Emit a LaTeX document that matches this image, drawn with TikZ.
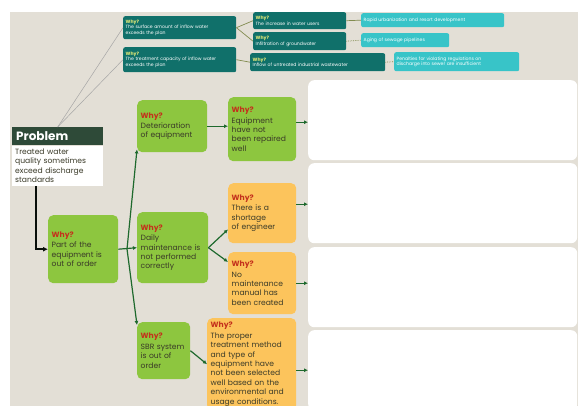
\documentclass[tikz,border=0pt]{standalone}
\usepackage{fontspec}
\setmainfont{Poppins}
\usetikzlibrary{arrows.meta,positioning}

\definecolor{canvas}{RGB}{227,223,214}
\definecolor{leaf}{RGB}{141,198,63}
\definecolor{amber}{RGB}{252,196,92}
\definecolor{whyred}{RGB}{196,48,28}
\definecolor{ink}{RGB}{58,58,40}
\definecolor{forest}{RGB}{46,74,56}
\definecolor{arrowgreen}{RGB}{30,105,45}
\definecolor{deepteal}{RGB}{16,112,106}
\definecolor{aqua}{RGB}{56,196,200}
\definecolor{olive}{RGB}{130,140,80}
\definecolor{whyyellow}{RGB}{232,236,120}

\newcommand{\whyline}{{\color{whyred}\bfseries Why?}\\[1pt]}
\newcommand{\whysmall}{{\color{whyyellow}\bfseries Why?}\\}

\begin{document}
\begin{tikzpicture}[x=1pt, y=-1pt,
    cause/.style={rectangle, rounded corners=5pt, anchor=north west, align=left, inner sep=3.5pt, text=ink, font=\fontsize{7.6}{9.4}\selectfont},
    greencause/.style={cause, fill=leaf},
    orangecause/.style={cause, fill=amber},
    tealcause/.style={rectangle, rounded corners=2pt, anchor=north west, align=left, inner sep=2.5pt, fill=deepteal, text=white, font=\fontsize{4.6}{5.6}\selectfont},
    rootcause/.style={tealcause, fill=aqua},
    answer/.style={rectangle, rounded corners=6pt, anchor=north west, fill=white, minimum width=269pt},
    link/.style={draw=arrowgreen, line width=1.2pt, -{Latex[length=4pt,width=4pt]}},
    twig/.style={draw=olive, line width=0.7pt}]
        \useasboundingbox (0,0) rectangle (578,406);
        \fill[canvas] (10,12) rectangle (578,406);

        % problem statement
        \node (probhead) [anchor=north west, fill=forest, text=white, font=\bfseries\fontsize{12}{13}\selectfont, text width=83pt, minimum height=18pt, inner sep=4pt, align=left] at (12,127) {Problem};
        \node (probtext) [anchor=north west, fill=white, text=ink, font=\fontsize{7.6}{9.5}\selectfont, text width=85pt, inner sep=3pt, align=left] at (probhead.south west) {Treated water\\quality sometimes\\exceed discharge\\standards};

        % upper branch
        \node (whyA) [tealcause, text width=108pt, minimum height=23pt] at (123,16) {\whysmall The surface amount of inflow water\\exceeds the plan};
        \node (whyB) [tealcause, text width=108pt, minimum height=25pt] at (123,47) {\whysmall The treatment capacity of inflow water\\exceeds the plan};
        \node (whyC) [tealcause, text width=88pt, minimum height=17pt] at (253,12) {\whysmall The increase in water users};
        \node (whyD) [tealcause, text width=88pt, minimum height=18pt] at (253,32) {\whysmall Infiltration of groundwater};
        \node (whyE) [tealcause, text width=130pt, minimum height=18pt] at (250,53) {\whysmall Inflow of untreated industrial wastewater};
        \node (rootF) [rootcause, text width=138pt, minimum height=14pt] at (361,13) {Rapid urbanization and resort development};
        \node (rootG) [rootcause, text width=83pt, minimum height=14pt] at (361,33) {Aging of sewage pipelines};
        \node (rootH) [rootcause, text width=120pt, minimum height=19pt] at (394,52) {Penalties for violating regulations on\\discharge into sewer are insufficient};

        % lower branch
        \node (part) [greencause, text width=63pt, minimum height=68pt] at (48,215) {\whyline Part of the\\equipment is\\out of order};
        \node (deter) [greencause, text width=63pt, minimum height=52pt] at (137,100) {\whyline Deterioration\\of equipment};
        \node (equip) [greencause, text width=61pt, minimum height=64pt] at (228,97) {\whyline Equipment\\have not\\been repaired\\well};
        \node (daily) [greencause, text width=64pt, minimum height=71pt] at (137,212) {\whyline Daily\\maintenance is\\not performed\\correctly};
        \node (shortage) [orangecause, text width=61pt, minimum height=60pt] at (228,183) {\whyline There is a\\shortage\\of engineer};
        \node (manual) [orangecause, text width=61pt, minimum height=62pt] at (228,252) {\whyline No\\maintenance\\manual has\\been created};
        \node (sbr) [greencause, text width=46pt, minimum height=57pt] at (137,322) {\whyline SBR system\\is out of\\order};
        \node (proper) [orangecause, text width=82pt, minimum height=92pt] at (207,318) {\whyline The proper\\treatment method\\and type of\\equipment have\\not been selected\\well based on the\\environmental and\\usage conditions.};

        % empty answer panels
        \node (panel1) [answer, minimum height=80pt] at (308,80) {};
        \node (panel2) [answer, minimum height=80pt] at (308,163) {};
        \node (panel3) [answer, minimum height=80pt] at (308,247) {};
        \node (panel4) [answer, minimum height=80pt] at (308,330) {};

        \draw[gray!70, line width=0.5pt] (probhead.north) -- (whyA.west);
        \draw[gray!70, line width=0.5pt] (probhead.north) -- (whyB.west);
        \draw[twig] (whyA.east) -- (whyC.west);
        \draw[twig] (whyA.east) -- (whyD.west);
        \draw[twig] (whyB.east) -- (whyE.west);
        \draw[twig] (whyC.east) -- (rootF.west);
        \draw[twig, densely dotted] (whyD.east) -- (rootG.west);
        \draw[twig, densely dotted] (whyE.east) -- (rootH.west);

        \draw[draw=black!80!forest, line width=1.6pt, -{Latex[length=5pt,width=5pt]}] ([xshift=24pt]probtext.south west) |- (part.west);
        \coordinate (fork) at (127,249);
        \draw[link] (part.east) -- (daily.west);
        \draw[link] (fork) -- ([yshift=3pt]deter.south west);
        \draw[link] (fork) -- ([yshift=-3pt]sbr.north west);
        \draw[link] (deter.east) -- (deter.east -| equip.west);
        \draw[link] (daily.east) -- ([yshift=14pt]shortage.south west);
        \draw[link] (daily.east) -- ([yshift=-10pt]manual.north west);
        \draw[link] (sbr.east) -- (proper.west);
        \draw[link] ([yshift=7pt]equip.east) -- ([yshift=7pt]equip.east -| panel1.west);
        \draw[link] ([yshift=9pt]shortage.east) -- ([yshift=9pt]shortage.east -| panel2.west);
        \draw[link] (manual.east) -- (manual.east -| panel3.west);
        \draw[link] ([yshift=-6pt]proper.east) -- ([yshift=-6pt]proper.east -| panel4.west);
    \end{tikzpicture}
\end{document}
